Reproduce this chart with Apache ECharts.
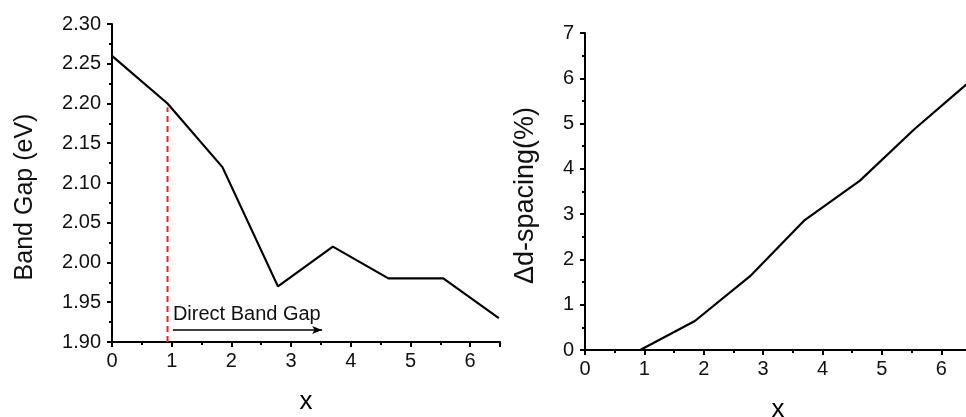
<!DOCTYPE html>
<html>
<head>
<meta charset="utf-8">
<script src="https://cdn.jsdelivr.net/npm/echarts@6/dist/echarts.min.js"></script>
<style>
  html, body { margin: 0; padding: 0; background: #fff; }
  #band_chart { width: 966px; height: 417px; }
</style>
</head>
<body>
<div id="band_chart"></div>
<script>
// composition x
var xValues = [0, 0.93, 1.85, 2.78, 3.7, 4.63, 5.55, 6.48];
var bandGap = [2.26, 2.20, 2.12, 1.97, 2.02, 1.98, 1.98, 1.93];
var dSpacing = [0, 0, 0.64, 1.63, 2.87, 3.74, 4.88, 5.93];
// red dashed marker and the arrow below it
var directX = [0.93, 0.93];
var directY = [1.90, 2.195];
var arrowX = [1.02, 3.52];
var arrowY = 1.915;
var arrowText = 'Direct Band Gap';

function pairs(xs, ys) {
  var out = [];
  for (var i = 0; i < xs.length; i++) out.push([xs[i], ys[i]]);
  return out;
}

function axisX(idx) {
  return {
    type: 'value', gridIndex: idx, min: 0, max: 6.5, interval: 1,
    name: 'x', nameLocation: 'middle', nameGap: 47,
    nameTextStyle: { fontFamily: 'Liberation Sans', fontSize: 26, color: '#000' },
    axisLine: { show: true, onZero: false, lineStyle: { color: '#000', width: 2 } },
    axisTick: { show: true, inside: false, length: 5, lineStyle: { color: '#000', width: 2 } },
    minorTick: { show: true, splitNumber: 2, length: 3, lineStyle: { color: '#000', width: 2 } },
    axisLabel: { showMaxLabel: false, margin: 9, fontFamily: 'Liberation Sans', fontSize: 20, color: '#111' },
    splitLine: { show: false }
  };
}

function graph_band() {
  var myChart = echarts.init(document.getElementById('band_chart'));
  var labelFont = { fontFamily: 'Liberation Sans', fontSize: 20, color: '#111' };
  var option = {
    animation: false,
    backgroundColor: '#fff',
    grid: [
      { left: 112, top: 24, right: 466, bottom: 75, outerBoundsMode: 'none', containLabel: false },
      { left: 585, top: 33, right: -5, bottom: 67, outerBoundsMode: 'none', containLabel: false }
    ],
    xAxis: [axisX(0), axisX(1)],
    yAxis: [
      {
        type: 'value', gridIndex: 0, min: 1.90, max: 2.30, interval: 0.05,
        name: 'Band Gap (eV)', nameLocation: 'middle', nameGap: 74,
        nameTextStyle: { fontFamily: 'Liberation Sans', fontSize: 25, color: '#111', padding: [0, 28, 0, 0] },
        axisLine: { show: true, lineStyle: { color: '#000', width: 2 } },
        axisTick: { show: true, length: 5, lineStyle: { color: '#000', width: 2 } },
        minorTick: { show: true, splitNumber: 2, length: 3, lineStyle: { color: '#000', width: 2 } },
        axisLabel: Object.assign({ margin: 11, formatter: function (v) { return v.toFixed(2); } }, labelFont),
        splitLine: { show: false }
      },
      {
        type: 'value', gridIndex: 1, min: 0, max: 7, interval: 1,
        name: '\u0394d-spacing(%)', nameLocation: 'middle', nameGap: 46,
        nameTextStyle: { fontFamily: 'Liberation Sans', fontSize: 27, color: '#111', padding: [0, 8, 0, 0] },
        axisLine: { show: true, lineStyle: { color: '#000', width: 2 } },
        axisTick: { show: true, length: 5, lineStyle: { color: '#000', width: 2 } },
        minorTick: { show: true, splitNumber: 2, length: 3, lineStyle: { color: '#000', width: 2 } },
        axisLabel: Object.assign({ margin: 11 }, labelFont),
        splitLine: { show: false }
      }
    ],
    series: [
      {
        name: 'Band Gap', type: 'line', xAxisIndex: 0, yAxisIndex: 0,
        data: pairs(xValues, bandGap), symbol: 'none',
        lineStyle: { color: '#000', width: 2.2 }
      },
      {
        name: 'Direct', type: 'line', xAxisIndex: 0, yAxisIndex: 0,
        data: pairs(directX, directY), symbol: 'none', z: 1,
        lineStyle: { color: '#ee2026', width: 2, type: [6, 4] },
        markLine: {
          silent: true,
          lineStyle: { color: '#000', width: 1.6, type: 'solid' },
          label: Object.assign({ show: true, position: 'insideStartTop', distance: [0, 6], formatter: arrowText }, labelFont),
          data: [[
            { coord: [arrowX[0], arrowY], symbol: 'none' },
            { coord: [arrowX[1], arrowY], symbol: 'arrow', symbolSize: [6, 10] }
          ]]
        }
      },
      {
        name: 'd-spacing', type: 'line', xAxisIndex: 1, yAxisIndex: 1,
        data: pairs(xValues, dSpacing), symbol: 'none',
        lineStyle: { color: '#000', width: 2.2 }
      }
    ]
  };
  myChart.setOption(option);
}

graph_band();
</script>
</body>
</html>
